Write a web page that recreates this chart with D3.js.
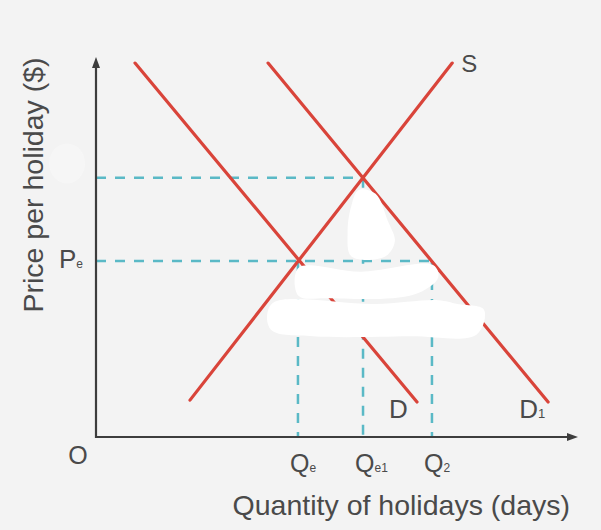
<!DOCTYPE html>
<html>
<head>
<meta charset="utf-8">
<script src="https://cdn.jsdelivr.net/npm/d3@7"></script>
<style>
  html, body { margin: 0; padding: 0; background: #f3f3f3; }
  svg { display: block; }
  text { font-family: "Liberation Sans", Arial, sans-serif; fill: #4a4a4a; }
</style>
</head>
<body>
<div id="chart"></div>
<script>
// Curves, as [quantity, price] end points
const curveNames = ['D', 'D1', 'S']
const curveStarts = [[0.81, 9.84], [3.57, 9.84], [1.95, 0.97]]
const curveEnds = [[6.66, 0.92], [9.38, 0.92], [7.39, 9.84]]

// Price levels (Pe, and the new one whose label was scrubbed out)
const priceNames = ['Pe', 'P1']
const priceValues = [4.63, 6.82]

// Quantity levels and tick labels
const quantityNames = ['Qe', 'Qe1', 'Q2']
const quantityValues = [4.19, 5.54, 6.97]
const quantityMain = ['Q', 'Q', 'Q']
const quantitySub = ['e', 'e1', '2']
// price level that each quantity guide rises to
const quantityPrice = [4.63, 6.82, 4.63]

const width = 601, height = 530

const svg = d3.select('#chart').append('svg')
  .attr('width', width)
  .attr('height', height)
  .attr('viewBox', `0 0 ${width} ${height}`)

const x = d3.scaleLinear().domain([0, 10]).range([96, 578])
const y = d3.scaleLinear().domain([0, 10]).range([437, 57])

const gGuides = svg.append('g')
const gCurves = svg.append('g')
const gBlobs = svg.append('g')
const gAxes = svg.append('g')
const gText = svg.append('g')

// Dashed guides
const teal = '#5ab9c6'
const guides = []
// horizontal: each price goes right to the furthest quantity at that price
priceValues.forEach(p => {
  const qs = quantityValues.filter((q, i) => quantityPrice[i] === p)
  guides.push({ q0: 0, p0: p, q1: d3.max(qs), p1: p })
})
quantityValues.forEach((q, i) => {
  guides.push({ q0: q, p0: quantityPrice[i], q1: q, p1: 0 })
})

gGuides.selectAll('.guide')
  .data(guides)
  .join('line')
  .classed('guide', true)
  .attr('x1', d => x(d.q0))
  .attr('y1', d => y(d.p0))
  .attr('x2', d => x(d.q1))
  .attr('y2', d => y(d.p1))
  .style('stroke', teal)
  .style('stroke-width', 2.5)
  .style('stroke-dasharray', '10 9')

// Supply and demand curves
const curves = curveNames.map((n, i) => ({ id: n, a: curveStarts[i], b: curveEnds[i] }))
gCurves.selectAll('.curve')
  .data(curves, d => d.id)
  .join('line')
  .classed('curve', true)
  .attr('x1', d => x(d.a[0]))
  .attr('y1', d => y(d.a[1]))
  .attr('x2', d => x(d.b[0]))
  .attr('y2', d => y(d.b[1]))
  .style('stroke', '#d9443a')
  .style('stroke-width', 3.2)
  .style('stroke-linecap', 'round')

// White scribbles painted over the middle of the picture (in data units)
const blobShapes = [
  [[5.45, 6.5], [5.8, 6.4], [6.05, 5.7], [6.2, 5.15], [6.0, 4.75], [5.3, 4.75], [5.22, 5.4], [5.3, 6.1]],
  [[4.2, 4.45], [5.5, 4.35], [7.0, 4.52], [7.1, 4.2], [6.6, 3.75], [4.8, 3.65], [4.2, 3.72]],
  [[3.7, 3.55], [5.8, 3.5], [7.1, 3.6], [7.5, 3.5], [8.05, 3.35], [7.9, 2.7], [6.5, 2.65], [4.5, 2.65], [3.65, 2.8], [3.55, 3.2]]
]
const blobLine = d3.line()
  .x(d => x(d[0]))
  .y(d => y(d[1]))
  .curve(d3.curveCatmullRomClosed)

gBlobs.selectAll('.blob')
  .data(blobShapes)
  .join('path')
  .classed('blob', true)
  .attr('d', blobLine)
  .style('fill', '#ffffff')

// faint patch where the P1 label used to be
gBlobs.append('ellipse')
  .attr('cx', x(-0.6))
  .attr('cy', y(7.2))
  .attr('rx', 18)
  .attr('ry', 20)
  .style('fill', '#ffffff')
  .style('opacity', 0.3)

// Axes with arrow heads
const axisColour = '#3d3d3d'
gAxes.append('path')
  .attr('d', `M${x(0)},${y(10) + 6} V${y(0)} H${x(10) - 6}`)
  .style('fill', 'none')
  .style('stroke', axisColour)
  .style('stroke-width', 2.2)

gAxes.append('path')
  .attr('d', `M${x(0)},${y(10)} l-4,11 h8 Z`)
  .style('fill', axisColour)
gAxes.append('path')
  .attr('d', `M${x(10)},${y(0)} l-11,-4 v8 Z`)
  .style('fill', axisColour)

// Curve labels
const labelPos = {
  D: [6.08, 0.5],
  D1: [8.78, 0.5],
  S: [7.58, 9.6]
}
const curveLabels = gText.selectAll('.curve-label')
  .data(curveNames)
  .join('text')
  .classed('curve-label', true)
  .attr('x', d => x(labelPos[d][0]))
  .attr('y', d => y(labelPos[d][1]))
  .style('font-size', d => d === 'S' ? '24px' : '26px')
curveLabels.append('tspan').text(d => d.charAt(0))
curveLabels.append('tspan')
  .text(d => d.slice(1))
  .style('font-size', '13px')

// Price label (only Pe survives)
const pe = gText.append('text')
  .attr('x', 59)
  .attr('y', y(priceValues[0]) + 7)
  .style('font-size', '26px')
pe.append('tspan').text(priceNames[0].charAt(0))
pe.append('tspan').text(priceNames[0].slice(1)).style('font-size', '12px')

// Origin
gText.append('text')
  .attr('x', 78)
  .attr('y', 464)
  .attr('text-anchor', 'middle')
  .style('font-size', '25px')
  .text('O')

// Quantity tick labels
const qLabels = gText.selectAll('.q-label')
  .data(quantityNames)
  .join('text')
  .classed('q-label', true)
  .attr('x', (d, i) => x(quantityValues[i]) - 8)
  .attr('y', 472)
  .style('font-size', '25px')
qLabels.append('tspan').text((d, i) => quantityMain[i])
qLabels.append('tspan').text((d, i) => quantitySub[i]).style('font-size', '12px')

// Axis titles
gText.append('text')
  .attr('x', 570)
  .attr('y', 515)
  .attr('text-anchor', 'end')
  .style('font-size', '28.5px')
  .text('Quantity of holidays (days)')

gText.append('text')
  .attr('transform', 'translate(43 185) rotate(-90)')
  .attr('text-anchor', 'middle')
  .style('font-size', '28.5px')
  .text('Price per holiday ($)')
</script>
</body>
</html>
